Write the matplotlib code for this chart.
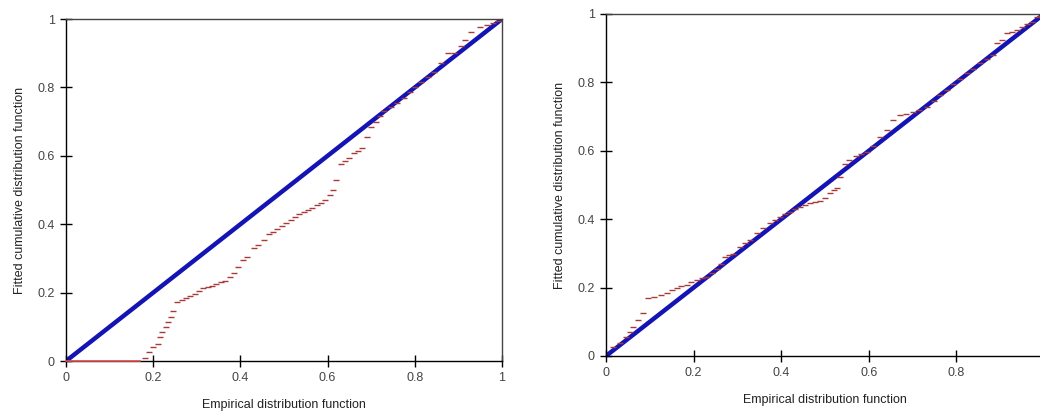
import matplotlib
matplotlib.use('Agg')
import matplotlib.pyplot as plt

plt.rcParams['font.family'] = ['Liberation Sans', 'DejaVu Sans']

# P-P plot data: empirical CDF vs fitted CDF
diag = [0, 1]

left_zero_x = [0, 0.17]
left_zero_y = [0, 0]
left_x = [0.18, 0.19, 0.20, 0.21, 0.215, 0.22, 0.23, 0.235, 0.24, 0.245,
          0.255, 0.265, 0.275, 0.285, 0.295, 0.305, 0.315, 0.325, 0.335, 0.345,
          0.355, 0.365, 0.375, 0.385, 0.395, 0.405, 0.415, 0.43, 0.44, 0.453,
          0.465, 0.475, 0.485, 0.495, 0.505, 0.515, 0.525, 0.535, 0.545, 0.555,
          0.565, 0.575, 0.585, 0.595, 0.605, 0.612, 0.62, 0.63, 0.64, 0.65,
          0.66, 0.67, 0.68, 0.69, 0.70, 0.71, 0.72, 0.73, 0.745, 0.76,
          0.775, 0.79, 0.80, 0.815, 0.83, 0.845, 0.86, 0.875, 0.89, 0.905,
          0.915, 0.93, 0.95, 0.965, 0.98, 0.99]
left_y = [0.01, 0.025, 0.04, 0.05, 0.07, 0.085, 0.10, 0.115, 0.13, 0.145,
          0.172, 0.178, 0.185, 0.19, 0.195, 0.205, 0.213, 0.215, 0.22, 0.225,
          0.232, 0.234, 0.245, 0.258, 0.275, 0.295, 0.305, 0.33, 0.34, 0.354,
          0.37, 0.378, 0.385, 0.395, 0.405, 0.412, 0.42, 0.43, 0.437, 0.442,
          0.448, 0.455, 0.462, 0.47, 0.485, 0.50, 0.53, 0.575, 0.585, 0.595,
          0.607, 0.615, 0.622, 0.655, 0.685, 0.70, 0.715, 0.73, 0.742, 0.755,
          0.77, 0.787, 0.80, 0.815, 0.83, 0.846, 0.87, 0.9, 0.9, 0.92,
          0.94, 0.962, 0.978, 0.982, 0.988, 0.993]

right_x = [0.017, 0.032, 0.045, 0.055, 0.062, 0.074, 0.085, 0.097, 0.11, 0.125,
           0.139, 0.15, 0.161, 0.172, 0.184, 0.195, 0.207, 0.218, 0.23, 0.242,
           0.253, 0.262, 0.272, 0.281, 0.291, 0.306, 0.318, 0.329, 0.344, 0.359,
           0.374, 0.385, 0.397, 0.408, 0.42, 0.431, 0.443, 0.455, 0.466, 0.478,
           0.489, 0.50, 0.511, 0.52, 0.527, 0.534, 0.545, 0.555, 0.57, 0.583,
           0.595, 0.61, 0.626, 0.641, 0.656, 0.671, 0.685, 0.7, 0.715, 0.732,
           0.748, 0.763, 0.778, 0.793, 0.808, 0.823, 0.838, 0.854, 0.869, 0.884,
           0.892, 0.905, 0.915, 0.927, 0.938, 0.95, 0.96, 0.972, 0.983, 0.993]
right_y = [0.027, 0.037, 0.055, 0.071, 0.086, 0.105, 0.125, 0.169, 0.172, 0.178,
           0.185, 0.193, 0.2, 0.204, 0.208, 0.215, 0.222, 0.227, 0.232, 0.242,
           0.253, 0.27, 0.29, 0.294, 0.298, 0.32, 0.33, 0.339, 0.359, 0.373,
           0.388, 0.398, 0.407, 0.415, 0.422, 0.43, 0.437, 0.442, 0.446, 0.45,
           0.454, 0.462, 0.476, 0.485, 0.49, 0.524, 0.56, 0.573, 0.585, 0.592,
           0.597, 0.615, 0.641, 0.661, 0.69, 0.705, 0.709, 0.712, 0.72, 0.729,
           0.745, 0.763, 0.778, 0.795, 0.81, 0.827, 0.84, 0.856, 0.868, 0.88,
           0.915, 0.925, 0.944, 0.946, 0.953, 0.962, 0.972, 0.978, 0.99, 0.995]

ticks = [0, 0.2, 0.4, 0.6, 0.8, 1]
tick_labels = ['0', '0.2', '0.4', '0.6', '0.8', '1']

fig = plt.figure(figsize=(10.4, 4.19), dpi=100)
ax1 = fig.add_axes([0.0635, 0.1384, 0.4192, 0.8162])
ax2 = fig.add_axes([0.5827, 0.1504, 0.4212, 0.8162])

for ax, xs, ys in [(ax1, left_x, left_y), (ax2, right_x, right_y)]:
    ax.plot(diag, diag, color='#1414b4', lw=3.2, solid_capstyle='butt', zorder=2)
    ax.plot(xs, ys, linestyle='none', marker='_', markersize=4,
            markeredgewidth=1.0, color='#a83a3a', zorder=3)
    ax.set_xlim(0, 1)
    ax.set_ylim(0, 1)
    ax.set_xticks(ticks)
    ax.set_xticklabels(tick_labels)
    ax.set_yticks(ticks)
    ax.set_yticklabels(tick_labels)
    ax.tick_params(direction='inout', length=8, width=1, labelsize=9,
                   labelcolor='#444444', pad=4)
    for s in ax.spines.values():
        s.set_linewidth(1)
    ax.spines['top'].set_color('#444444')
    ax.spines['right'].set_color('#444444')
    ax.set_xlabel('Empirical distribution function', fontsize=9, color='#222222', labelpad=11)
    ax.set_ylabel('Fitted cumulative distribution function', fontsize=9, color='#222222', labelpad=8)

ax1.plot(left_zero_x, left_zero_y, color='#e05050', lw=1.2, zorder=3, clip_on=False)

fig.savefig('out.png', dpi=100, facecolor='white')
